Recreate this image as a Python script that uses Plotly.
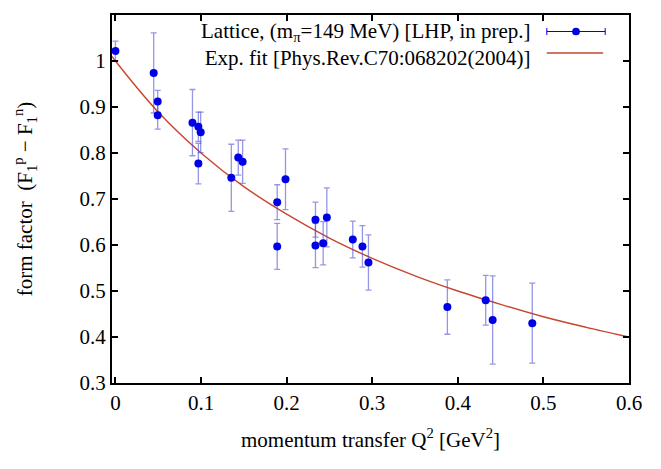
import plotly.graph_objects as go

# Lattice data: Q^2 [GeV^2], form factor, error
q2 = [0.0, 0.0447, 0.0494, 0.0494, 0.090, 0.0969, 0.0996, 0.0969, 0.1354, 0.1435,
      0.1486, 0.189, 0.1987, 0.189, 0.2337, 0.2337, 0.2427, 0.2470, 0.2773, 0.2886,
      0.2956, 0.3878, 0.4326, 0.4407, 0.487]
ff = [1.022, 0.974, 0.912, 0.882, 0.866, 0.857, 0.845, 0.777, 0.746, 0.790,
      0.781, 0.693, 0.743, 0.597, 0.655, 0.599, 0.604, 0.660, 0.612, 0.597,
      0.562, 0.465, 0.480, 0.437, 0.430]
err = [0.021, 0.087, 0.024, 0.030, 0.072, 0.032, 0.044, 0.044, 0.073, 0.038,
       0.047, 0.038, 0.066, 0.050, 0.038, 0.048, 0.047, 0.064, 0.040, 0.045,
       0.060, 0.059, 0.054, 0.096, 0.087]

fit_q2 = [-0.004, 0.0, 0.05, 0.1, 0.15, 0.2, 0.25, 0.3, 0.35, 0.4, 0.45, 0.5, 0.55, 0.6]
fit_ff = [1.010, 1.0, 0.889, 0.800, 0.727, 0.667, 0.615, 0.571, 0.533, 0.500, 0.471, 0.444, 0.421, 0.400]

x_ticks = [0, 0.1, 0.2, 0.3, 0.4, 0.5, 0.6]
x_ticktext = ["0", "0.1", "0.2", "0.3", "0.4", "0.5", "0.6"]
y_ticks = [0.3, 0.4, 0.5, 0.6, 0.7, 0.8, 0.9, 1.0, 1.1]
y_ticktext = ["0.3", "0.4", "0.5", "0.6", "0.7", "0.8", "0.9", "1", "1.1"]

legend_labels = ["Lattice, (m<sub>π</sub>=149 MeV) [LHP, in prep.]",
                 "Exp. fit [Phys.Rev.C70:068202(2004)]"]

FONT = "Liberation Serif, Times New Roman, serif"
BLUE = "#0000e6"
BAR = "rgba(80,80,215,0.6)"
RED = "#c8452e"

fig = go.Figure()
fig.add_trace(go.Scatter(
    x=fit_q2, y=fit_ff, mode="lines", line=dict(color=RED, width=1.4, shape="spline"),
    showlegend=False, hoverinfo="skip"))
fig.add_trace(go.Scatter(
    x=q2, y=ff, mode="markers",
    marker=dict(color=BLUE, size=8),
    error_y=dict(type="data", array=err, visible=True, color=BAR, thickness=1.3, width=3),
    showlegend=False))

axis_common = dict(
    showline=True, linecolor="black", linewidth=2, mirror="ticks",
    ticks="inside", ticklen=6, tickwidth=2, tickcolor="black",
    showgrid=False, zeroline=False, automargin=False,
    tickfont=dict(family=FONT, size=21, color="black"))

fig.update_xaxes(range=[-0.004, 0.6], tickvals=x_ticks, ticktext=x_ticktext,
                 title=dict(text="momentum transfer Q<sup>2</sup> [GeV<sup>2</sup>]",
                            font=dict(family=FONT, size=21, color="black"), standoff=18),
                 **axis_common)
fig.update_yaxes(range=[0.3, 1.1], tickvals=y_ticks, ticktext=y_ticktext,
                 title=dict(text="form factor  (F<sub>1</sub><sup>p</sup> − F<sub>1</sub><sup>n</sup>)",
                            font=dict(family=FONT, size=21, color="black"), standoff=41),
                 **axis_common)

# Legend (gnuplot style: right-aligned text, key sample on the right)
PH = 368.0  # plot height in px
fig.add_annotation(x=0.814, y=1 - 29.5 / PH, xref="paper", yref="paper",
                   text="<br>".join(legend_labels), align="right",
                   showarrow=False, xanchor="right", yanchor="middle",
                   font=dict(family=FONT, size=21, color="black"))

row1 = 1 - 16.5 / PH
row2 = 1 - 38.0 / PH
x0, x1 = 0.841, 0.954
cap = 3.5 / PH
shapes = [
    dict(type="line", xref="paper", yref="paper", x0=x0, x1=x1, y0=row1, y1=row1,
         line=dict(color=BLUE, width=1)),
    dict(type="line", xref="paper", yref="paper", x0=x0, x1=x0, y0=row1 - cap, y1=row1 + cap,
         line=dict(color=BLUE, width=1)),
    dict(type="line", xref="paper", yref="paper", x0=x1, x1=x1, y0=row1 - cap, y1=row1 + cap,
         line=dict(color=BLUE, width=1)),
    dict(type="circle", xref="paper", yref="paper", x0=0.8975 - 0.0075, x1=0.8975 + 0.0075,
         y0=row1 - 0.0105, y1=row1 + 0.0105, fillcolor=BLUE, line=dict(color=BLUE, width=0)),
    dict(type="line", xref="paper", yref="paper", x0=x0, x1=0.950, y0=row2, y1=row2,
         line=dict(color=RED, width=1.4)),
]

# The page body adds an 8 px offset; size the figure to compensate.
fig.update_layout(
    width=653, height=461,
    margin=dict(l=104, r=32, t=7, b=86),
    plot_bgcolor="white", paper_bgcolor="white",
    font=dict(family=FONT, size=21, color="black"),
    shapes=shapes, showlegend=False)

fig.write_html("out.html")
